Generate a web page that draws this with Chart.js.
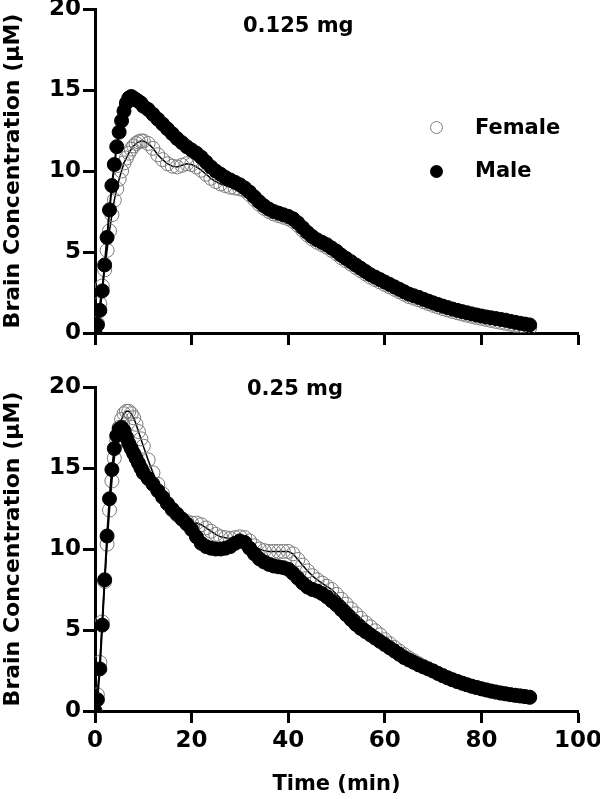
<!DOCTYPE html>
<html>
<head>
<meta charset="utf-8">
<script src="https://cdn.jsdelivr.net/npm/chart.js@4.4.0/dist/chart.umd.min.js"></script>
<style>
  body { margin: 0; background: #fff; }
  #wrap { position: relative; width: 600px; height: 799px; font-family: 'DejaVu Sans', sans-serif; font-weight: bold; }
  canvas { position: absolute; left: 0; }
  .lbl { position: absolute; font-size: 21px; line-height: 21px; color: #000; white-space: nowrap; }
  .dot { position: absolute; width: 13px; height: 13px; border-radius: 50%; box-sizing: border-box; }
</style>
</head>
<body>
<div id="wrap">
  <canvas id="top" width="600" height="360" style="top:0"></canvas>
  <canvas id="bottom" width="600" height="439" style="top:360px"></canvas>
  <div class="lbl" style="left:243px; top:15px">0.125 mg</div>
  <div class="lbl" style="left:247px; top:378px">0.25 mg</div>
  <div class="dot" style="left:430px; top:121px; border:1px solid #7a7a7a"></div>
  <div class="lbl" style="left:475px; top:117px">Female</div>
  <div class="dot" style="left:430px; top:165px; background:#000"></div>
  <div class="lbl" style="left:475px; top:160px">Male</div>
</div>
<script>
// Sampling times (min)
const times = [0, 0.5, 1, 1.5, 2, 2.5, 3, 3.5, 4, 4.5, 5, 5.5, 6, 6.5, 7, 7.5, 8, 8.5, 9, 9.5, 10,
  11, 12, 13, 14, 15, 16, 17, 18, 19, 20, 21, 22, 23, 24, 25, 26, 27, 28, 29, 30,
  31, 32, 33, 34, 35, 36, 37, 38, 39, 40, 41, 42, 43, 44, 45, 46, 47, 48, 49, 50,
  51, 52, 53, 54, 55, 56, 57, 58, 59, 60, 61, 62, 63, 64, 65, 66, 67, 68, 69, 70,
  71, 72, 73, 74, 75, 76, 77, 78, 79, 80, 81, 82, 83, 84, 85, 86, 87, 88, 89, 90];

// 0.125 mg
const maleLow = [0, 0.5, 1.4, 2.6, 4.2, 5.9, 7.6, 9.1, 10.4, 11.5, 12.4, 13.1, 13.7, 14.2, 14.5, 14.6, 14.5, 14.4, 14.3, 14.2, 14.0,
  13.8, 13.5, 13.2, 12.9, 12.6, 12.3, 12.0, 11.75, 11.5, 11.3,
  11.1, 10.85, 10.55, 10.25, 10.0, 9.8, 9.6, 9.45, 9.3, 9.15,
  8.95, 8.7, 8.4, 8.1, 7.85, 7.65, 7.5, 7.4, 7.3, 7.2,
  7.05, 6.8, 6.5, 6.2, 5.95, 5.75, 5.6, 5.45, 5.25, 5.05,
  4.8, 4.6, 4.4, 4.2, 4.0, 3.8, 3.6, 3.45, 3.3, 3.15,
  3.0, 2.85, 2.7, 2.55, 2.4, 2.3, 2.2, 2.08, 1.97, 1.86,
  1.76, 1.66, 1.57, 1.48, 1.4, 1.32, 1.25, 1.18, 1.11, 1.05,
  0.99, 0.94, 0.89, 0.84, 0.79, 0.72, 0.66, 0.6, 0.55, 0.5];
const femaleLow = [0, 0.6, 1.8, 2.9, 3.9, 5.1, 6.3, 7.3, 8.2, 8.9, 9.5, 10.0, 10.5, 10.8, 11.1, 11.35, 11.55, 11.7, 11.8, 11.85, 11.85,
  11.7, 11.4, 11.0, 10.7, 10.45, 10.3, 10.25, 10.35, 10.45, 10.4,
  10.25, 10.05, 9.8, 9.55, 9.35, 9.2, 9.1, 9.0, 8.95, 8.9,
  8.8, 8.55, 8.25, 7.95, 7.7, 7.5, 7.35, 7.25, 7.15, 7.05,
  6.9, 6.65, 6.35, 6.05, 5.8, 5.6, 5.45, 5.3, 5.1, 4.9,
  4.65, 4.45, 4.25, 4.05, 3.85, 3.65, 3.45, 3.3, 3.15, 3.0,
  2.85, 2.7, 2.55, 2.4, 2.25, 2.15, 2.05, 1.93, 1.82, 1.71,
  1.61, 1.51, 1.42, 1.33, 1.25, 1.17, 1.1, 1.03, 0.96, 0.9,
  0.84, 0.78, 0.72, 0.66, 0.6, 0.54, 0.48, 0.42, 0.37, 0.32];

// 0.25 mg
const maleHigh = [0, 0.7, 2.6, 5.3, 8.1, 10.8, 13.1, 14.9, 16.2, 17.0, 17.4, 17.5, 17.3, 16.9, 16.5, 16.2, 15.9, 15.6, 15.3, 15.0, 14.7,
  14.35, 14.0, 13.6, 13.2, 12.8, 12.45, 12.15, 11.85, 11.55, 11.2,
  10.75, 10.35, 10.15, 10.05, 10.0, 10.0, 10.05, 10.15, 10.35, 10.5,
  10.4, 10.05, 9.7, 9.4, 9.2, 9.05, 8.95, 8.9, 8.85, 8.75,
  8.5, 8.2, 7.9, 7.65, 7.5, 7.4, 7.25, 7.05, 6.8, 6.55,
  6.25, 5.95, 5.65, 5.35, 5.1, 4.9, 4.7, 4.5, 4.3, 4.1,
  3.9, 3.7, 3.5, 3.3, 3.15, 3.0, 2.85, 2.72, 2.6, 2.47,
  2.32, 2.18, 2.05, 1.93, 1.82, 1.72, 1.62, 1.53, 1.45, 1.37,
  1.3, 1.23, 1.17, 1.11, 1.06, 1.01, 0.97, 0.93, 0.89, 0.85];
const femaleHigh = [0, 1.0, 3.0, 5.5, 8.0, 10.3, 12.4, 14.2, 15.6, 16.7, 17.5, 18.0, 18.35, 18.5, 18.5, 18.35, 18.1, 17.7, 17.25, 16.8, 16.35,
  15.5, 14.7, 14.0, 13.4, 12.8, 12.4, 12.1, 11.85, 11.7, 11.6,
  11.6, 11.5, 11.3, 11.1, 10.9, 10.75, 10.7, 10.65, 10.7, 10.75,
  10.7, 10.5, 10.2, 10.0, 9.9, 9.85, 9.85, 9.85, 9.85, 9.85,
  9.7, 9.35, 9.0, 8.65, 8.35, 8.1, 7.9, 7.7, 7.5, 7.2,
  6.9, 6.6, 6.3, 6.0, 5.72, 5.45, 5.2, 4.95, 4.7, 4.4,
  4.15, 3.92, 3.7, 3.48, 3.28, 3.1, 2.92, 2.76, 2.6, 2.47,
  2.32, 2.18, 2.05, 1.93, 1.82, 1.72, 1.62, 1.53, 1.45, 1.37,
  1.3, 1.23, 1.17, 1.11, 1.06, 1.01, 0.97, 0.93, 0.89, 0.85];

const xTicks = [0, 20, 40, 60, 80, 100];
const yTicks = [0, 5, 10, 15, 20];

const family = "'DejaVu Sans', sans-serif";
const tickFont = { family: family, weight: 'bold', size: 23 };
const titleFont = { family: family, weight: 'bold', size: 21 };

function toPoints(vals) {
    return vals.map((v, i) => ({ x: times[i], y: v }));
}

function makeChart(id, female, male, showX, padTop, xHeight) {
    const ctx = document.getElementById(id);
    return new Chart(ctx, {
        type: 'line',
        data: {
            datasets: [{
                label: 'Male',
                data: toPoints(male),
                order: 0,
                borderColor: '#000',
                borderWidth: 2,
                pointRadius: 7,
                pointBackgroundColor: '#000',
                pointBorderColor: '#000',
                pointBorderWidth: 1,
                tension: 0
            }, {
                label: 'Female',
                data: toPoints(female),
                order: 1,
                borderColor: '#000',
                borderWidth: 1.5,
                pointRadius: 7,
                pointBackgroundColor: 'rgba(255,255,255,0)',
                pointBorderColor: '#7a7a7a',
                pointBorderWidth: 1,
                tension: 0
            }]
        },
        options: {
            responsive: false,
            animation: false,
            devicePixelRatio: 1,
            layout: { padding: { left: 0, right: 22, top: padTop, bottom: 0 } },
            plugins: { legend: { display: false }, tooltip: { enabled: false } },
            scales: {
                x: {
                    type: 'linear',
                    min: 0,
                    max: 100,
                    afterBuildTicks: s => { s.ticks = xTicks.map(v => ({ value: v })); },
                    afterFit: s => { s.height = xHeight; s.paddingLeft = 0; s.paddingRight = 0; },
                    border: { display: true, color: '#000', width: 3 },
                    grid: { drawOnChartArea: false, drawTicks: true, tickLength: 12, tickWidth: 3, tickColor: '#000' },
                    ticks: { display: showX, color: '#000', font: tickFont, padding: 4, maxRotation: 0 },
                    title: { display: showX, text: 'Time (min)', color: '#000', font: titleFont, padding: { top: 6, bottom: 2 } }
                },
                y: {
                    min: 0,
                    max: 20,
                    afterBuildTicks: s => { s.ticks = yTicks.map(v => ({ value: v })); },
                    afterFit: s => { s.width = 95; s.paddingTop = 0; s.paddingBottom = 0; },
                    border: { display: true, color: '#000', width: 3 },
                    grid: { drawOnChartArea: false, drawTicks: true, tickLength: 12, tickWidth: 3, tickColor: '#000' },
                    ticks: { color: '#000', font: tickFont, padding: 2 },
                    title: { display: true, text: 'Brain Concentration (\u03bcM)', color: '#000',
                        font: { family: family, weight: 'bold', size: 22 }, padding: { top: 0, bottom: 0 } }
                }
            }
        }
    });
}

makeChart('top', femaleLow, maleLow, false, 9, 27);
makeChart('bottom', femaleHigh, maleHigh, true, 27, 88);
</script>
</body>
</html>
